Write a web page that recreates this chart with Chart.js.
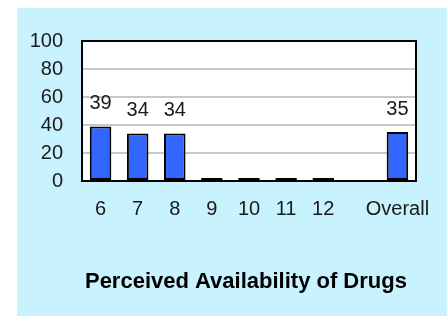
<!DOCTYPE html>
<html>
<head>
<meta charset="utf-8">
<script src="https://cdn.jsdelivr.net/npm/chart.js@4/dist/chart.umd.min.js"></script>
<style>
  html, body { margin: 0; padding: 0; background: #ffffff; }
  #wrap { position: relative; width: 447px; height: 316px; }
</style>
</head>
<body>
<div id="wrap"><canvas id="c" width="447" height="316"></canvas></div>
<script>
const categories = ['6', '7', '8', '9', '10', '11', '12', '', 'Overall'];
const availability = [39, 34, 34, 0, 0, 0, 0, null, 35];
const yMin = 0;
const yMax = 100;
const yStep = 20;
const chartTitle = 'Perceived Availability of Drugs ';

const FONT = '"Liberation Sans", Arial, sans-serif';
const BG = '#C8F2FE';

const backgroundPlugin = {
  id: 'bgPanel',
  beforeDraw(chart) {
    const ctx = chart.ctx;
    const a = chart.chartArea;
    ctx.save();
    ctx.fillStyle = BG;
    ctx.fillRect(17, 8, chart.width - 17, chart.height - 8);
    ctx.fillStyle = '#ffffff';
    ctx.fillRect(a.left, a.top, a.right - a.left, a.bottom - a.top);
    ctx.restore();
  }
};

const framePlugin = {
  id: 'frame',
  afterDatasetsDraw(chart) {
    const ctx = chart.ctx;
    const a = chart.chartArea;
    ctx.save();
    ctx.strokeStyle = '#000000';
    ctx.lineWidth = 2;
    ctx.strokeRect(a.left, a.top, a.right - a.left, a.bottom - a.top);
    ctx.restore();
  }
};

const valueLabelPlugin = {
  id: 'valueLabels',
  afterDatasetsDraw(chart) {
    const ctx = chart.ctx;
    chart.data.datasets.forEach((ds, di) => {
      const meta = chart.getDatasetMeta(di);
      meta.data.forEach((el, i) => {
        const v = ds.data[i];
        if (v === null || v === 0) return;
        ctx.save();
        ctx.fillStyle = '#1a1a1a';
        ctx.font = '20px ' + FONT;
        ctx.textAlign = 'center';
        ctx.textBaseline = 'middle';
        ctx.fillText(String(v), el.x, el.y - 23);
        ctx.restore();
      });
    });
  }
};

new Chart(document.getElementById('c'), {
  type: 'bar',
  data: {
    labels: categories,
    datasets: [{
      data: availability,
      backgroundColor: (ctx) => (ctx.raw === 0 ? '#000000' : '#3366FF'),
      borderColor: '#000000',
      borderWidth: 2,
      borderSkipped: false,
      minBarLength: 3,
      barPercentage: 0.58,
      categoryPercentage: 1
    }]
  },
  options: {
    responsive: false,
    animation: false,
    devicePixelRatio: 1,
    layout: { padding: { left: 17, right: 31, top: 41, bottom: 0 } },
    plugins: {
      legend: { display: false },
      tooltip: { enabled: false },
      title: { display: false }
    },
    scales: {
      x: {
        grid: { display: false, drawTicks: false },
        border: { display: false },
        ticks: {
          color: '#1a1a1a',
          font: { family: FONT, size: 20 },
          padding: 16,
          maxRotation: 0,
          autoSkip: false
        },
        title: {
          display: true,
          text: chartTitle,
          color: '#000000',
          font: { family: FONT, size: 22, weight: 'bold' },
          padding: { top: 0, bottom: 21 }
        },
        afterFit(scale) { scale.height = 135; }
      },
      y: {
        min: yMin,
        max: yMax,
        grid: { color: '#C8C8C8', lineWidth: 2, drawTicks: false },
        border: { display: false },
        ticks: {
          stepSize: yStep,
          color: '#1a1a1a',
          font: { family: FONT, size: 20 },
          padding: 19
        },
        afterFit(scale) { scale.width = 65; }
      }
    }
  },
  plugins: [backgroundPlugin, framePlugin, valueLabelPlugin]
});
</script>
</body>
</html>
